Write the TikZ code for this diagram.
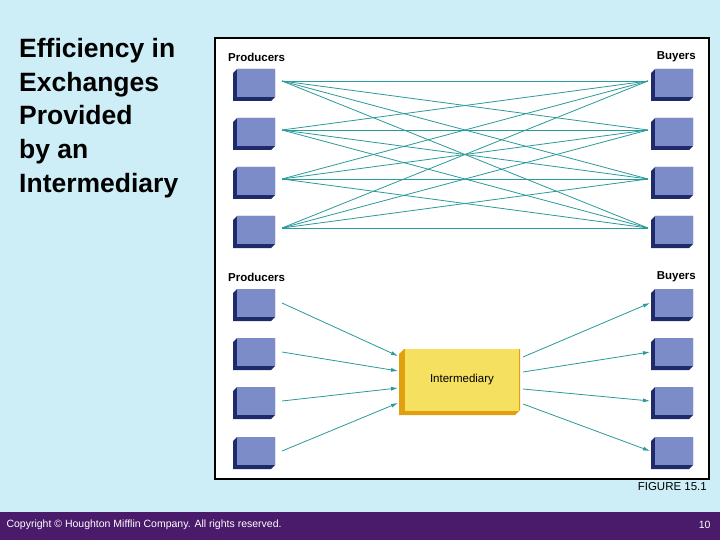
\documentclass[tikz,border=0pt]{standalone}
\usepackage{fontspec}
\setmainfont{Liberation Sans}
\begin{document}
\begin{tikzpicture}[x=1pt,y=-1pt,
  box/.style={fill=boxf,draw=none,minimum width=38pt,minimum height=28pt,inner sep=0pt},
  inter/.style={fill=yel,draw=none,minimum width=114pt,minimum height=62pt,inner sep=0pt,font=\fontsize{11.5}{12}\selectfont},
  ln/.style={teal0,line width=0.8pt},
  arr/.style={teal0,line width=0.8pt,-{Latex[length=7pt,width=4pt]}},
  lab/.style={font=\bfseries\fontsize{11.5}{12}\selectfont,inner sep=0pt}]
\definecolor{bg}{HTML}{CDEEF7}
\definecolor{boxf}{HTML}{7B8CC9}
\definecolor{boxs}{HTML}{1F2A6B}
\definecolor{yel}{HTML}{F5E060}
\definecolor{yels}{HTML}{E0A010}
\definecolor{teal0}{HTML}{2A9A9A}
\definecolor{purp}{HTML}{4A1A6B}
\usetikzlibrary{arrows.meta}
\fill[bg] (0,0) rectangle (720,540);
\useasboundingbox (0,0) rectangle (720,540);
\fill[purp] (0,512) rectangle (720,540);
\node[anchor=west,text=white,font=\fontsize{10.5}{12}\selectfont] (cp) at (3,525) {Copyright © Houghton Mifflin Company. All rights reserved.};
\node[anchor=east,text=white,font=\fontsize{10.5}{12}\selectfont] (pg) at (714,525) {10};
\node[anchor=north west,align=left,font=\bfseries\fontsize{26.5}{33.7}\selectfont,text=black,inner sep=0pt] (title) at (19,38) {Efficiency in\\Exchanges\\Provided\\by an\\Intermediary};
\draw[fill=white,line width=1.2pt] (215,38) rectangle (709,479);
\node[anchor=north east,font=\fontsize{11.5}{12}\selectfont,inner sep=0pt] (fig) at (707,482) {FIGURE 15.1};
\node[lab,anchor=west] (p1) at (228,57) {Producers};
\node[lab,anchor=east] (b1) at (696,57) {Buyers};
\node[lab,anchor=west] (p2) at (228,277) {Producers};
\node[lab,anchor=east] (b2) at (696,277) {Buyers};
% shadowed boxes
\foreach \nm/\x/\y in {tp1/256/83,tp2/256/132,tp3/256/181,tp4/256/230,
  tb1/674/83,tb2/674/132,tb3/674/181,tb4/674/230,
  bp1/256/303,bp2/256/352,bp3/256/401,bp4/256/451,
  bb1/674/303,bb2/674/352,bb3/674/401,bb4/674/451}{
  \fill[boxs] (\x-19,\y-14) -- (\x-23,\y-10) -- (\x-23,\y+18) -- (\x+15,\y+18) -- (\x+19,\y+14) -- (\x+19,\y-14) -- cycle;
  \node[box] (\nm) at (\x,\y) {};
}
\fill[yels] (404,349) -- (399,354) -- (399,415) -- (515,415) -- (520,410) -- (520,349) -- cycle;
\node[inter] (im) at (462,380) {Intermediary};
% top lines
\foreach \i/\y in {1/81,2/130,3/179,4/228}{
  \coordinate (L\i) at (282,\y);
  \coordinate (R\i) at (648,\y);
}
\foreach \i in {1,...,4}{\foreach \j in {1,...,4}{\draw[ln] (L\i) -- (R\j);}}
% bottom arrows
\foreach \i/\y/\t in {1/303/356,2/352/371,3/401/388,4/451/403}{
  \coordinate (a\i) at (282,\y);
  \coordinate (ai\i) at (398,\t);
  \coordinate (o\i) at (523,\t+1);
  \coordinate (c\i) at (650,\y);
  \draw[arr] (a\i) -- (ai\i);
  \draw[arr] (o\i) -- (c\i);
}
\end{tikzpicture}
\end{document}
